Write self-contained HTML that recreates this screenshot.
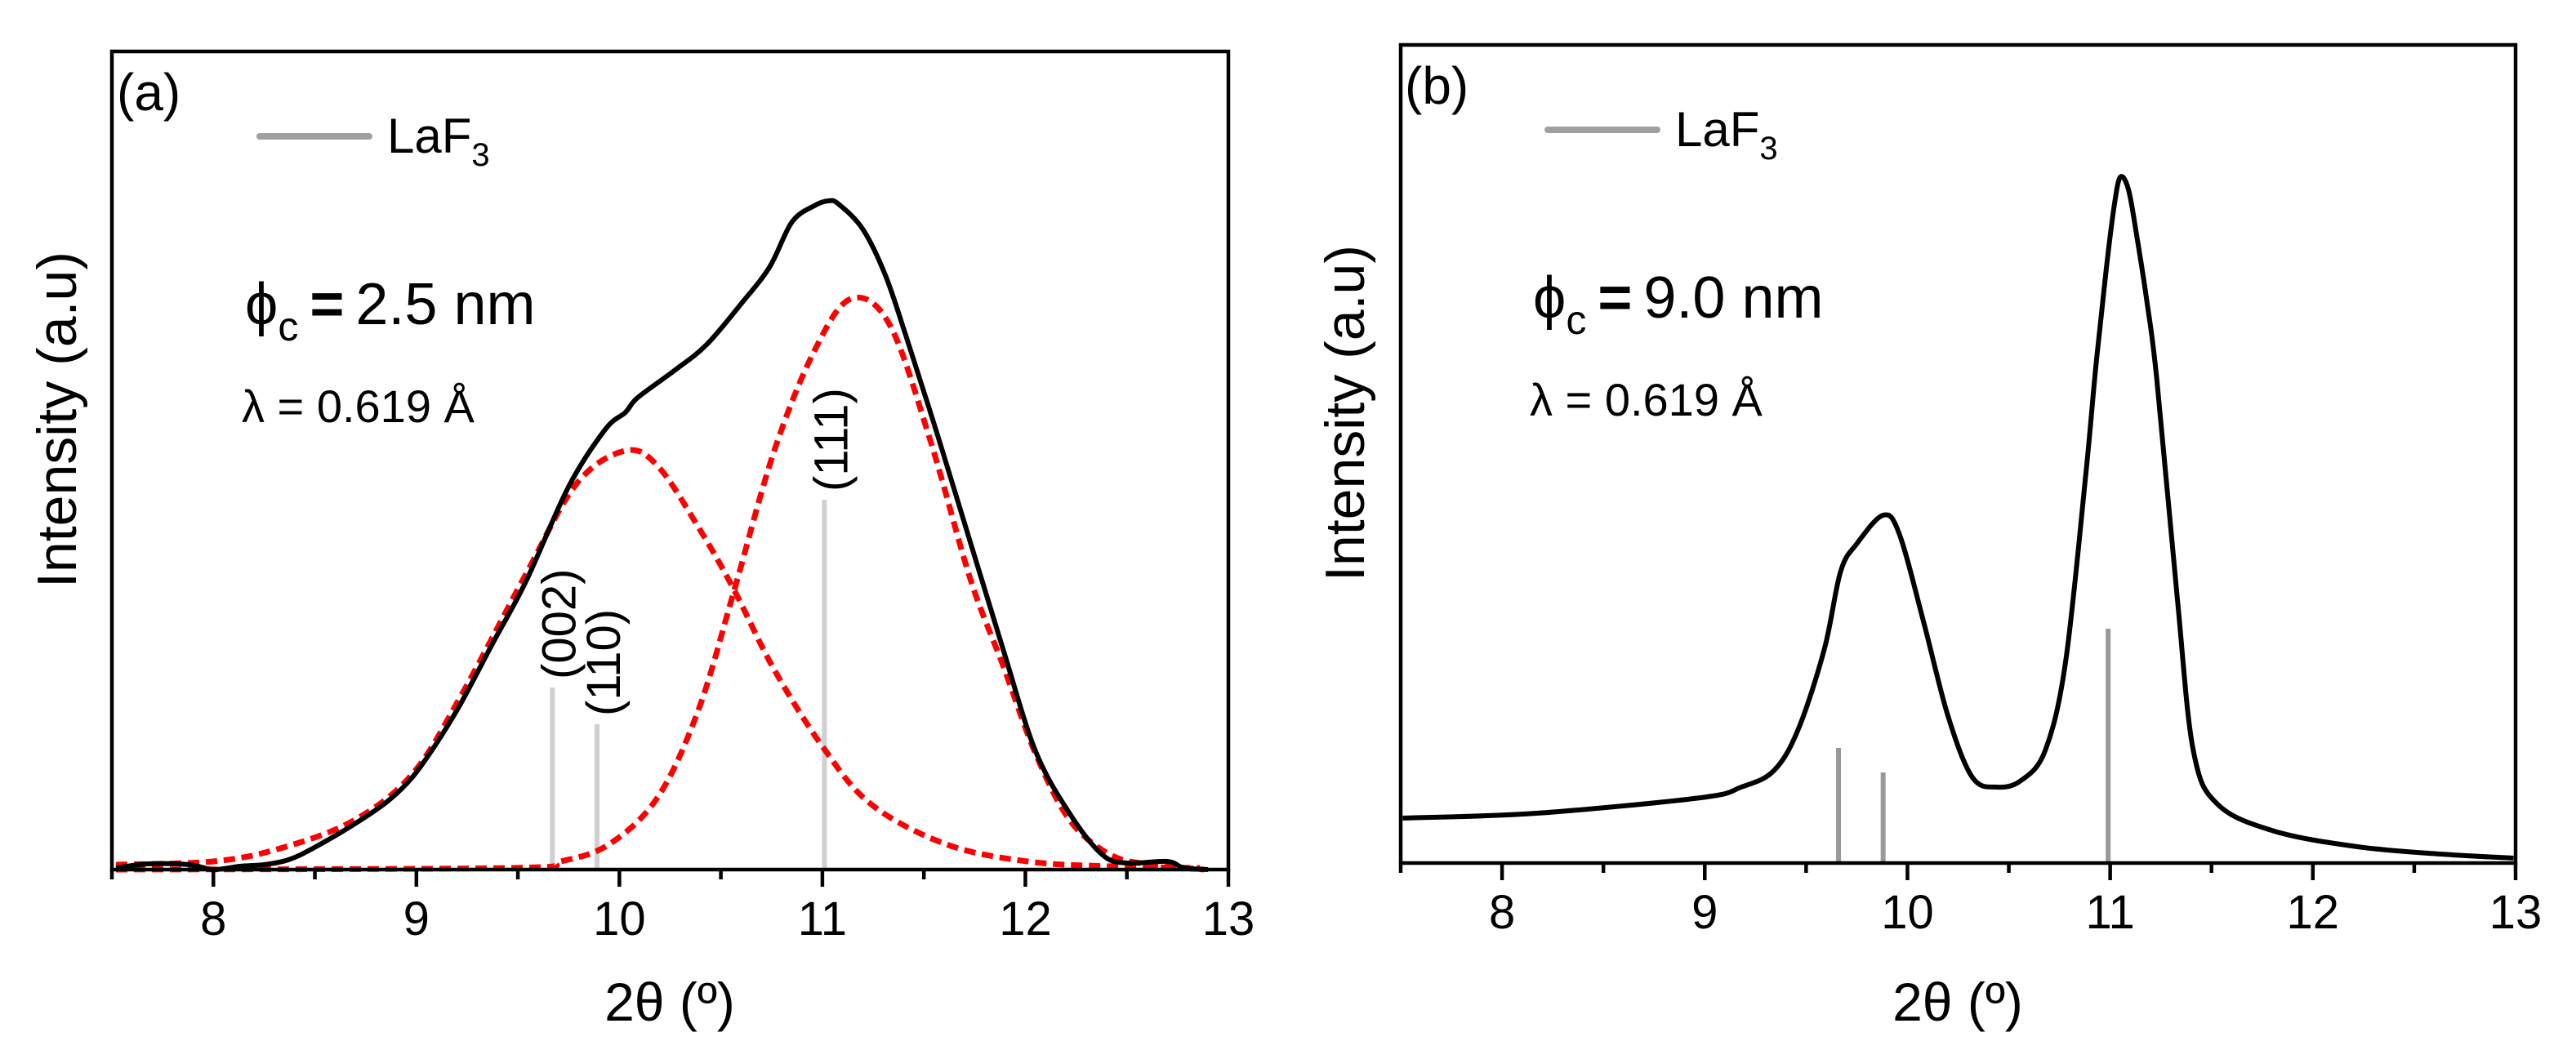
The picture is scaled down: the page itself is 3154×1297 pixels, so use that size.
<!DOCTYPE html>
<html><head><meta charset="utf-8"><style>
html,body{margin:0;padding:0;background:#fff;}
svg{display:block;font-family:"Liberation Sans",Arial,sans-serif;}
</style></head><body>
<svg id="fig" width="3154" height="1297" viewBox="0 0 3154 1297" xmlns="http://www.w3.org/2000/svg"></svg>
<script>
// ---- data (x in 2θ degrees, y in arbitrary intensity units) ----
const xTicks = [8, 9, 10, 11, 12, 13];
const xMinor = [7.5, 8.5, 9.5, 10.5, 11.5, 12.5];
const aBlackX = [7.52,7.68,7.88,8.0,8.13,8.25,8.37,8.49,8.69,8.86,8.98,9.1,9.22,9.38,9.54,9.75,9.93,10.03,10.09,10.27,10.43,10.6,10.74,10.85,10.96,11.03,11.08,11.2,11.31,11.41,11.57,11.73,11.89,12.05,12.22,12.38,12.5,12.7,12.78,12.9];
const aBlackY = [0.2,0.7,0.6,0,0.4,0.6,1.2,2.6,5.5,8.4,11.3,15.5,20.4,27.9,35.3,46.9,53.9,56.0,57.8,61.1,64.3,69.3,73.8,79.3,81.3,81.9,81.5,78.4,72.8,65.5,53.0,40.0,27.0,14.5,6.8,1.8,0.8,1.0,0.2,0];
const aFit1X = [7.52,8.0,8.33,8.69,8.98,9.22,9.54,9.79,10.03,10.19,10.39,10.56,10.76,11.0,11.24,11.61,12.01,12.42,12.86];
const aFit1Y = [0.6,1.0,2.6,6.0,11.7,21.3,36.2,47.3,51.3,49.4,41.9,34.5,24.6,15.1,8.0,3.1,1.0,0.4,0.2];
const aFit2X = [7.52,9.46,9.71,9.95,10.19,10.39,10.56,10.76,10.96,11.14,11.33,11.53,11.73,11.89,12.05,12.22,12.42,12.62,12.88];
const aFit2Y = [0,0.2,1.0,3.1,8.9,19.6,33.7,51.1,63.5,69.9,66.8,52.7,35.5,25.0,14.2,6.0,1.8,0.6,0];
const aRefX = [9.67, 9.89, 11.01];
const aRefY = [22.3, 17.8, 45.3];
const aRefLabels = ["(002)", "(110)", "(111)"];
const bBlackX = [7.51,8.17,8.98,9.18,9.34,9.46,9.59,9.67,9.75,9.88,9.96,10.08,10.2,10.32,10.44,10.56,10.68,10.78,10.88,10.93,10.98,11.02,11.05,11.09,11.13,11.18,11.23,11.33,11.41,11.53,11.81,12.22,12.63,12.99];
const bBlackY = [5.5,6.1,8.0,9.3,11.3,16.3,26.2,35.7,39.1,42.6,40.3,29.5,18.0,10.5,9.3,10.1,13.8,24.6,47.7,61.0,72.6,80.5,84.0,82.5,77.0,69.0,59.3,32.8,13.8,7.2,3.9,2.0,1.1,0.6];
const bRefX = [9.66, 9.88, 10.99];
const bRefY = [14.1, 11.1, 28.7];

const NS = "http://www.w3.org/2000/svg";
const svg = document.getElementById("fig");
function mk(tag, attrs, parent){
  const e = document.createElementNS(NS, tag);
  for (const k in attrs) e.setAttribute(k, attrs[k]);
  (parent||svg).appendChild(e);
  return e;
}
function smooth(xs, ys, sx, sy){
  const p = xs.map((x,i)=>[sx(x), sy(ys[i])]);
  let d = "M"+p[0][0].toFixed(1)+","+p[0][1].toFixed(1);
  for (let i=0;i<p.length-1;i++){
    const p0=p[Math.max(i-1,0)], p1=p[i], p2=p[i+1], p3=p[Math.min(i+2,p.length-1)];
    const c1=[p1[0]+(p2[0]-p0[0])/6, p1[1]+(p2[1]-p0[1])/6];
    const c2=[p2[0]-(p3[0]-p1[0])/6, p2[1]-(p3[1]-p1[1])/6];
    d += "C"+c1.map(v=>v.toFixed(1)).join(",")+" "+c2.map(v=>v.toFixed(1)).join(",")+" "+p2.map(v=>v.toFixed(1)).join(",");
  }
  return d;
}

function panel(P){
  const g = mk("g", {});
  
  
  const sx = v => P.left + (v - 7.5) * (P.right - P.left) / 5.5;
  const sy = v => P.bottom - v * 10;
  P.refX.forEach((x, i) => {
    const l = mk("line", {x1:sx(x), x2:sx(x), y1:P.bottom, y2:sy(P.refY[i]), stroke:P.barColor, "stroke-width":6}, g);
    
    
  });
  (P.fits||[]).forEach(f => {
    const p = mk("path", {d:smooth(f[0], f[1], sx, sy), fill:"none", stroke:"#ff0000", "stroke-width":7, "stroke-dasharray":"14 8", "stroke-linejoin":"round"}, g);
    
    
  });
  const bl = mk("path", {d:smooth(P.blackX, P.blackY, sx, sy), fill:"none", stroke:"#000", "stroke-width":6, "stroke-linejoin":"round"}, g);
  
  
  (P.refLabels||[]).forEach((t,i) => {
    const x = sx(P.refX[i]) + 28, y = sy(P.refY[i]) - 10;
    const tx = mk("text", {x:0, y:0, "font-size":58, transform:`translate(${x},${y}) rotate(-90)`}, g);
    tx.textContent = t;
    
    
  });
  const fr = mk("rect", {x:P.left, y:P.top, width:P.right-P.left, height:P.bottom-P.top, fill:"none", stroke:"#000", "stroke-width":4.5}, g);
  
  
  xTicks.forEach(v => {
    const t = mk("line", {x1:sx(v), x2:sx(v), y1:P.bottom, y2:P.bottom+21, stroke:"#000", "stroke-width":4.5}, g);
    
    
    const lb = mk("text", {x:sx(v), y:P.bottom+80, "font-size":58, "text-anchor":"middle"}, g);
    lb.textContent = v;
    
    
  });
  xMinor.forEach(v => {
    const t = mk("line", {x1:sx(v), x2:sx(v), y1:P.bottom, y2:P.bottom+12, stroke:"#000", "stroke-width":4.5}, g);
    
    
  });
}

function texts(P, off){
  const g = mk("g", {});
  
  
  const add = (html, attrs, name) => {
    const t = mk("text", attrs, g);
    t.innerHTML = html;
    
    
    return t;
  };
  add(P.letter, {x:off+143, y:P.top+72, "font-size":64}, 'panel-letter');
  const lg = mk("line", {x1:off+318, x2:off+452, y1:P.top+104, y2:P.top+104, stroke:"#a0a0a0", "stroke-width":8, "stroke-linecap":"round"}, g);
  
  
  add('LaF<tspan font-size="40" dy="16">3</tspan>', {x:off+474, y:P.top+124, "font-size":60}, 'legend-label');
  add('ϕ<tspan font-size="50" dy="20">c</tspan><tspan dy="-20" font-weight="bold" dx="14">=</tspan><tspan dx="14">' + P.size + '</tspan>', {x:off+300, y:P.phiY, "font-size":72}, 'crystallite-size-label');
  add('λ = 0.619 Å', {x:off+296, y:P.phiY+120, "font-size":56}, 'wavelength-label');
  add('Intensity (a.u)', {x:0, y:0, "font-size":68, "text-anchor":"middle", transform:`translate(${off+93},${(P.top+P.bottom)/2 - 50}) rotate(-90)`}, 'y-axis-title');
  add('2θ (º)', {x:off+820, y:1250, "font-size":66, "text-anchor":"middle"}, 'x-axis-title');
}

const PA = {name:"panel-a", left:137, right:1504, top:63, bottom:1065, blackX:aBlackX, blackY:aBlackY,
  fits:[[aFit1X,aFit1Y],[aFit2X,aFit2Y]], refX:aRefX, refY:aRefY, refLabels:aRefLabels, barColor:"#d0d0d0",
  letter:"(a)", size:"2.5 nm", phiY:397};
const PB = {name:"panel-b", left:1715, right:3080, top:55, bottom:1057, blackX:bBlackX, blackY:bBlackY,
  fits:[], refX:bRefX, refY:bRefY, refLabels:[], barColor:"#999999",
  letter:"(b)", size:"9.0 nm", phiY:389};
panel(PA); texts(PA, 0);
panel(PB); texts(PB, 1577);
</script>
</body></html>
